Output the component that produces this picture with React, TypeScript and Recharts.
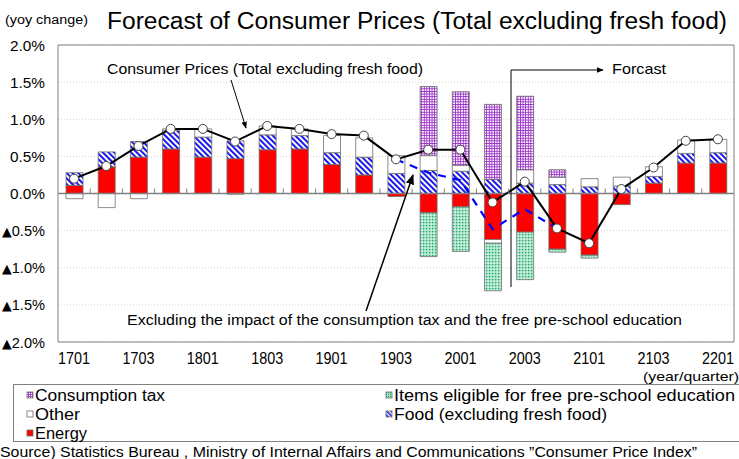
import {
  ComposedChart,
  Bar,
  Line,
  XAxis,
  YAxis,
  CartesianGrid,
  ReferenceLine,
  ReferenceArea,
} from "recharts";

// Forecast of core CPI (yoy), contributions by component, quarterly 2017Q1-2022Q1.

const quarters = [
  "1701", "1702", "1703", "1704", "1801", "1802", "1803", "1804", "1901", "1902", "1903",
  "1904", "2001", "2002", "2003", "2004", "2101", "2102", "2103", "2104", "2201",
];
const energy = [0.11, 0.36, 0.49, 0.6, 0.49, 0.47, 0.59, 0.6, 0.39, 0.25, -0.04, -0.26, -0.18, -0.62, -0.52, -0.75, -0.83, -0.15, 0.14, 0.41, 0.41];
const food = [0.17, 0.2, 0.21, 0.25, 0.27, 0.24, 0.2, 0.18, 0.16, 0.24, 0.27, 0.31, 0.3, 0.19, 0.14, 0.12, 0.09, 0.1, 0.09, 0.13, 0.14];
const other = [-0.07, -0.19, -0.07, 0.02, 0.11, -0.01, 0.12, 0.09, 0.23, 0.26, 0.24, 0.2, 0.08, -0.05, 0.18, 0.1, 0.11, 0.12, 0.13, 0.18, 0.18];
const freeEdu = [null, null, null, null, null, null, null, null, null, null, null, -0.59, -0.6, -0.64, -0.64, -0.04, -0.04, null, null, null, null];
const tax = [null, null, null, null, null, null, null, null, null, null, null, 0.93, 0.99, 1.01, 0.99, 0.1, null, null, null, null, null];
const corePrices = [0.2, 0.37, 0.64, 0.87, 0.87, 0.7, 0.91, 0.87, 0.8, 0.78, 0.46, 0.59, 0.59, -0.12, 0.16, -0.47, -0.67, 0.06, 0.35, 0.71, 0.73];
const exclImpact = [null, null, null, null, null, null, null, null, null, null, 0.46, 0.28, 0.18, -0.48, -0.21, -0.47, null, null, null, null, null];
const yTicks = [-2, -1.5, -1, -0.5, 0, 0.5, 1, 1.5, 2];

const rows = quarters.map((q, i) => ({
  q,
  energy: energy[i],
  food: food[i],
  other: other[i],
  freeEdu: freeEdu[i],
  tax: tax[i],
  core: corePrices[i],
  excl: exclImpact[i],
}));

const W = 739;
const H = 459;
const PLOT_L = 58;
const PLOT_R = 734;
const PLOT_T = 45;
const PLOT_B = 342;
const ZERO_Y = (PLOT_T + PLOT_B) / 2;
const BAND = (PLOT_R - PLOT_L) / quarters.length;
const FONT = "'Liberation Sans Narrow', 'Liberation Sans', Arial, sans-serif";
const EDGE = "#6e6e6e";

const XTick = (props: any) => {
  const { x, y, payload, index } = props;
  return (
    <g>
      {index > 0 && (
        <line x1={x - BAND / 2} x2={x - BAND / 2} y1={ZERO_Y - 5} y2={ZERO_Y} stroke="#808080" />
      )}
      {index % 2 === 0 && (
        <text
          x={x - 16}
          y={y + 14}
          fontSize={16}
          fill="#000"
          fontFamily={FONT}
          textLength={32}
          lengthAdjust="spacingAndGlyphs"
        >
          {payload.value}
        </text>
      )}
    </g>
  );
};

// negative values are written with a leading ▲, as in Japanese statistics
const YTick = (props: any) => {
  const { y, payload } = props;
  const v = payload.value as number;
  const num = `${Math.abs(v).toFixed(1)}%`;
  const neg = v < 0;
  return (
    <text
      x={neg ? 2 : 10}
      y={y + 5.5}
      fontSize={15}
      fill="#000"
      fontFamily={FONT}
      textLength={neg ? 43 : 35}
      lengthAdjust="spacingAndGlyphs"
    >
      {neg && (
        <tspan fontSize={13} fontFamily="'DejaVu Sans', sans-serif">
          ▲
        </tspan>
      )}
      {num}
    </text>
  );
};

const Swatch = ({ x, y, fill }: { x: number; y: number; fill: string }) => (
  <rect x={x} y={y - 3} width={6} height={6} fill={fill} stroke={EDGE} strokeWidth={0.8} />
);

export default function App() {
  return (
    <div style={{ position: "absolute", left: 0, top: 0, width: W, height: H, background: "#fff" }}>
      <ComposedChart
        width={W}
        height={H}
        data={rows}
        stackOffset="sign"
        barSize={17}
        margin={{ top: PLOT_T, right: W - PLOT_R, bottom: 87, left: 0 }}
      >
        <defs>
          <pattern id="foodHatch" width={4} height={4} patternUnits="userSpaceOnUse" patternTransform="rotate(-45)">
            <rect width={4} height={4} fill="#fffbe0" />
            <rect width={1.8} height={4} fill="#0000ff" />
          </pattern>
          <pattern id="taxGrid" width={2.6} height={2.6} patternUnits="userSpaceOnUse">
            <rect width={2.6} height={2.6} fill="#ffffff" />
            <rect width={2.6} height={0.9} fill="#9a2fc8" />
            <rect width={0.9} height={2.6} fill="#9a2fc8" />
          </pattern>
          <pattern id="eduDots" width={3} height={3} patternUnits="userSpaceOnUse">
            <rect width={3} height={3} fill="#9fe0c0" />
            <rect width={1.2} height={1.2} fill="#1fa86f" />
            <rect x={1.5} y={1.5} width={1.2} height={1.2} fill="#ffffff" />
          </pattern>
        </defs>
        <CartesianGrid vertical={false} stroke="#cfcfcf" strokeDasharray="1 2" />
        <XAxis dataKey="q" interval={0} axisLine={false} tickLine={false} height={30} tick={<XTick />} />
        <YAxis
          domain={[-2, 2]}
          ticks={yTicks}
          width={PLOT_L}
          axisLine={false}
          tickLine={false}
          tick={<YTick />}
        />
        <Bar dataKey="energy" stackId="s" fill="#ff0000" stroke={EDGE} strokeWidth={0.8} isAnimationActive={false} />
        <Bar dataKey="food" stackId="s" fill="url(#foodHatch)" stroke={EDGE} strokeWidth={0.8} isAnimationActive={false} />
        <Bar dataKey="other" stackId="s" fill="#ffffff" stroke={EDGE} strokeWidth={0.8} isAnimationActive={false} />
        <Bar dataKey="freeEdu" stackId="s" fill="url(#eduDots)" stroke={EDGE} strokeWidth={0.8} isAnimationActive={false} />
        <Bar dataKey="tax" stackId="s" fill="url(#taxGrid)" stroke={EDGE} strokeWidth={0.8} isAnimationActive={false} />
        <ReferenceLine y={0} stroke="#808080" strokeWidth={1.5} />
        <ReferenceArea y1={-2} y2={2} fill="none" stroke="#808080" strokeWidth={1} ifOverflow="visible" />
        <Line
          dataKey="excl"
          stroke="#0000ff"
          strokeWidth={2.2}
          strokeDasharray="8 7"
          dot={false}
          connectNulls={false}
          isAnimationActive={false}
        />
        <Line
          dataKey="core"
          stroke="#000000"
          strokeWidth={2}
          dot={{ r: 4.5, fill: "#ffffff", stroke: "#404040", strokeWidth: 1 }}
          isAnimationActive={false}
        />
      </ComposedChart>

      <svg
        width={W}
        height={H}
        style={{ position: "absolute", left: 0, top: 0, pointerEvents: "none" }}
        fontFamily={FONT}
      >
        <defs>
          <marker id="arrowHead" viewBox="0 0 10 10" refX={9} refY={5} markerWidth={7} markerHeight={7} orient="auto">
            <path d="M0,1 L10,5 L0,9 z" fill="#000" />
          </marker>
          <pattern id="foodHatchL" width={3} height={3} patternUnits="userSpaceOnUse" patternTransform="rotate(-45)">
            <rect width={3} height={3} fill="#fffbe0" />
            <rect width={1.4} height={3} fill="#0000ff" />
          </pattern>
          <pattern id="taxGridL" width={2} height={2} patternUnits="userSpaceOnUse">
            <rect width={2} height={2} fill="#ffffff" />
            <rect width={2} height={0.8} fill="#9a2fc8" />
            <rect width={0.8} height={2} fill="#9a2fc8" />
          </pattern>
          <pattern id="eduDotsL" width={2} height={2} patternUnits="userSpaceOnUse">
            <rect width={2} height={2} fill="#9fe0c0" />
            <rect width={1} height={1} fill="#1fa86f" />
          </pattern>
        </defs>
        <text x={5} y={24} fontSize={12} textLength={83} lengthAdjust="spacingAndGlyphs">(yoy change)</text>
        <text x={107} y={29} fontSize={23} textLength={620} lengthAdjust="spacingAndGlyphs">
          Forecast of Consumer Prices (Total excluding fresh food)
        </text>

        <text x={107} y={74} fontSize={15} textLength={316} lengthAdjust="spacingAndGlyphs">
          Consumer Prices (Total excluding fresh food)
        </text>
        <line x1={231} y1={80} x2={246} y2={128} stroke="#000" strokeWidth={1} markerEnd="url(#arrowHead)" />

        <polyline points="511,287 511,70 603,70" fill="none" stroke="#000" strokeWidth={1} markerEnd="url(#arrowHead)" />
        <text x={612} y={74} fontSize={15} textLength={54} lengthAdjust="spacingAndGlyphs">Forcast</text>

        <line x1={366} y1={311} x2={413} y2={175} stroke="#000" strokeWidth={1.5} markerEnd="url(#arrowHead)" />
        <text x={127} y={325} fontSize={14} textLength={555} lengthAdjust="spacingAndGlyphs">
          Excluding the impact of the consumption tax and the free pre-school education
        </text>

        <text x={739} y={381} fontSize={13} textAnchor="end" textLength={96} lengthAdjust="spacingAndGlyphs">
          (year/quarter)
        </text>

        <rect x={13.5} y={384.5} width={740} height={57} fill="#fff" stroke="#808080" />
        <Swatch x={27} y={395} fill="url(#taxGridL)" />
        <Swatch x={27} y={414} fill="#ffffff" />
        <Swatch x={27} y={433} fill="#ff0000" />
        <Swatch x={386} y={395} fill="url(#eduDotsL)" />
        <Swatch x={386} y={414} fill="url(#foodHatchL)" />
        <text x={35} y={401} fontSize={16} textLength={130} lengthAdjust="spacingAndGlyphs">Consumption tax</text>
        <text x={35} y={420} fontSize={16} textLength={45} lengthAdjust="spacingAndGlyphs">Other</text>
        <text x={35} y={439} fontSize={16} textLength={52} lengthAdjust="spacingAndGlyphs">Energy</text>
        <text x={394} y={401} fontSize={16} textLength={341} lengthAdjust="spacingAndGlyphs">
          Items eligible for free pre-school education
        </text>
        <text x={394} y={420} fontSize={16} textLength={213} lengthAdjust="spacingAndGlyphs">
          Food (excluding fresh food)
        </text>

        <text x={0} y={457} fontSize={14} textLength={697} lengthAdjust="spacingAndGlyphs">
          Source) Statistics Bureau , Ministry of Internal Affairs and Communications ”Consumer Price Index”
        </text>
      </svg>
    </div>
  );
}
